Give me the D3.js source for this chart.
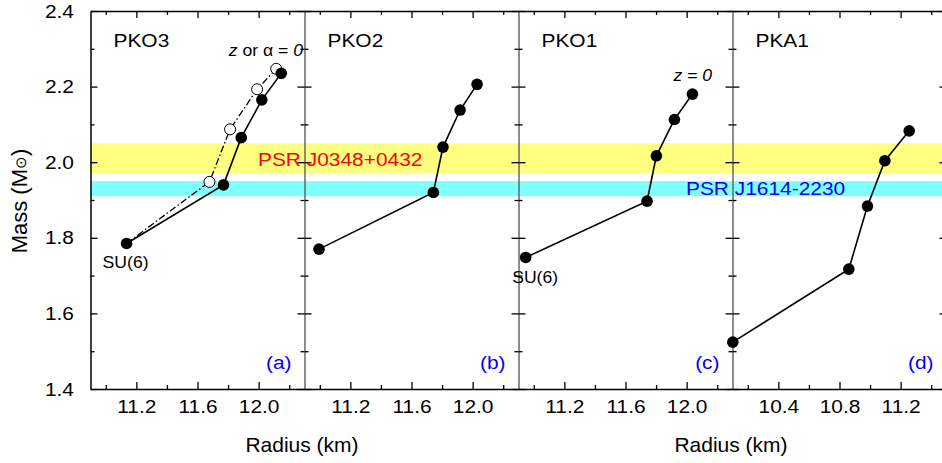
<!DOCTYPE html>
<html>
<head>
<meta charset="utf-8" />
<title>Mass-radius</title>
<style type="text/css">
  html, body { margin: 0; background: #fff; }
  svg { display: block; font-family: "Liberation Sans", Arial, sans-serif; }
  .tick line { stroke: #000; stroke-width: 1.3px; }
  .tick text { fill: #000; font-size: 19px; }
</style>
</head>
<body>
<div id="container"></div>
<script src="https://cdn.jsdelivr.net/npm/d3@7"></script>
<script>
// values
var panelNames = ["PKO3", "PKO2", "PKO1", "PKA1"];
var panelLetters = ["(a)", "(b)", "(c)", "(d)"];
var radiusDomains = [[10.9, 12.3], [10.9, 12.3], [10.9, 12.3], [10.1, 11.5]];
var radiusMajor = [[11.2, 11.6, 12.0], [11.2, 11.6, 12.0], [11.2, 11.6, 12.0], [10.4, 10.8, 11.2]];
var radiusMinor = [[11.0, 11.4, 11.8, 12.2], [11.0, 11.4, 11.8, 12.2], [11.0, 11.4, 11.8, 12.2], [10.2, 10.6, 11.0, 11.4]];
var massMajor = [1.4, 1.6, 1.8, 2.0, 2.2, 2.4];
var massMinor = [1.5, 1.7, 1.9, 2.1, 2.3];

var pko3R = [11.136, 11.770, 11.886, 12.021, 12.148];
var pko3M = [1.785, 1.940, 2.065, 2.165, 2.235];
var pko3OpenR = [11.136, 11.678, 11.813, 11.990, 12.115];
var pko3OpenM = [1.785, 1.948, 2.087, 2.193, 2.247];
var pko2R = [10.995, 11.743, 11.806, 11.918, 12.029];
var pko2M = [1.770, 1.920, 2.040, 2.138, 2.206];
var pko1R = [10.947, 11.741, 11.802, 11.920, 12.038];
var pko1M = [1.748, 1.897, 2.017, 2.113, 2.180];
var pka1R = [10.102, 10.861, 10.983, 11.097, 11.256];
var pka1M = [1.524, 1.717, 1.884, 2.004, 2.083];

var bandJ0348 = [1.97, 2.05];
var bandJ1614 = [1.91, 1.95];

var W = 942, H = 463;
var left0 = 90.5, panelW = 214, plotTop = 11, plotBottom = 389;
var sx = 1.1; // text in the picture is a bit stretched sideways

function zip(r, m) { return r.map(function(d, i) { return [d, m[i]]; }); }
var solid = [zip(pko3R, pko3M), zip(pko2R, pko2M), zip(pko1R, pko1M), zip(pka1R, pka1M)];
var open = zip(pko3OpenR, pko3OpenM);

var svg = d3.select("#container").append("svg")
    .attr("width", W).attr("height", H);

var y = d3.scaleLinear().domain([1.4, 2.4]).range([plotBottom, plotTop]);
var xs = radiusDomains.map(function(dom, i) {
  return d3.scaleLinear().domain(dom).range([left0 + i * panelW, left0 + (i + 1) * panelW]);
});
var rightEdge = left0 + 4 * panelW;

function label(g, x, yy, str, size, color, anchor) {
  return g.append("text")
      .attr("transform", "translate(" + x + "," + yy + ") scale(" + sx + ",1)")
      .attr("text-anchor", anchor || "start")
      .style("font-size", size + "px")
      .style("fill", color || "#000")
      .text(str);
}

// bands
svg.append("rect")
    .attr("x", left0).attr("width", rightEdge - left0)
    .attr("y", y(bandJ0348[1])).attr("height", y(bandJ0348[0]) - y(bandJ0348[1]))
    .attr("fill", "#ffff80");
svg.append("rect")
    .attr("x", left0).attr("width", rightEdge - left0)
    .attr("y", y(bandJ1614[1])).attr("height", y(bandJ1614[0]) - y(bandJ1614[1]))
    .attr("fill", "#80ffff");

// axes
xs.forEach(function(x, i) {
  var g = svg.append("g");
  var xl = x.range()[0], xr = x.range()[1];

  // vertical borders, inward ticks on both sides
  [[d3.axisLeft, xl], [d3.axisRight, xr]].forEach(function(a) {
    var edge = i === 0 && a[1] === xl;
    var maj = g.append("g").attr("transform", "translate(" + a[1] + ",0)")
        .call(a[0](y).tickValues(massMajor).tickSizeInner(-7).tickSizeOuter(0)
            .tickPadding(15).tickFormat(edge ? d3.format(".1f") : ""));
    var mn = g.append("g").attr("transform", "translate(" + a[1] + ",0)")
        .call(a[0](y).tickValues(massMinor).tickSizeInner(-4).tickSizeOuter(0).tickFormat(""));
    var col = edge ? "#000" : "#666";
    maj.select(".domain").attr("stroke", col).attr("stroke-width", edge ? 1.5 : 1);
    mn.select(".domain").remove();
    maj.selectAll(".tick text").attr("transform", "scale(" + sx + ",1)");
  });

  var bx = g.append("g").attr("transform", "translate(0," + plotBottom + ")")
      .call(d3.axisBottom(x).tickValues(radiusMajor[i]).tickSizeInner(-7).tickSizeOuter(0)
          .tickPadding(11).tickFormat(d3.format(".1f")));
  bx.select(".domain").attr("stroke-width", 1.5);
  bx.selectAll(".tick text").attr("transform", "scale(" + sx + ",1)");
  g.append("g").attr("transform", "translate(0," + plotBottom + ")")
      .call(d3.axisBottom(x).tickValues(radiusMinor[i]).tickSizeInner(-4).tickSizeOuter(0).tickFormat(""))
      .select(".domain").remove();

  var tx = g.append("g").attr("transform", "translate(0," + plotTop + ")")
      .call(d3.axisTop(x).tickValues(radiusMajor[i]).tickSizeInner(-7).tickSizeOuter(0).tickFormat(""));
  tx.select(".domain").attr("stroke-width", 1.5);
  g.append("g").attr("transform", "translate(0," + plotTop + ")")
      .call(d3.axisTop(x).tickValues(radiusMinor[i]).tickSizeInner(-4).tickSizeOuter(0).tickFormat(""))
      .select(".domain").remove();

  label(g, xl + 23, 47, panelNames[i], 19);
  label(g, x(x.domain()[1] - 0.085), 369, panelLetters[i], 19, "#0000ff", "end");
});

label(svg, 258, 166, "PSR J0348+0432", 19, "#ff0000");
label(svg, 686, 195, "PSR J1614-2230", 19, "#0000ff");

// curves
var xa = xs[0];
svg.append("path")
    .datum(open)
    .attr("d", d3.line().x(function(d) { return xa(d[0]); }).y(function(d) { return y(d[1]); }))
    .attr("fill", "none").attr("stroke", "#000").attr("stroke-width", 1.3)
    .attr("stroke-dasharray", "7,2.5,1.5,2.5");

solid.forEach(function(pts, i) {
  var x = xs[i];
  var l = d3.line().x(function(d) { return x(d[0]); }).y(function(d) { return y(d[1]); });
  svg.append("path").datum(pts).attr("d", l)
      .attr("fill", "none").attr("stroke", "#000").attr("stroke-width", 1.6);
});

svg.append("g").selectAll("circle")
    .data(open.slice(1))
    .join("circle")
    .attr("cx", function(d) { return xa(d[0]); })
    .attr("cy", function(d) { return y(d[1]); })
    .attr("r", 5.5)
    .attr("fill", "#fff").attr("stroke", "#000").attr("stroke-width", 1);

solid.forEach(function(pts, i) {
  var x = xs[i];
  svg.append("g").selectAll("circle")
      .data(pts)
      .join("circle")
      .attr("cx", function(d) { return x(d[0]); })
      .attr("cy", function(d) { return y(d[1]); })
      .attr("r", 5.8)
      .attr("fill", "#000");
});

// annotations
label(svg, xa(11.136) - 1, 268, "SU(6)", 16, "#000", "middle");
label(svg, xs[2](10.95) + 9, 283, "SU(6)", 16, "#000", "middle");

var t1 = svg.append("text")
    .attr("transform", "translate(303,56) scale(" + sx + ",1)")
    .attr("text-anchor", "end").style("font-size", "16px");
t1.append("tspan").style("font-style", "italic").text("z");
t1.append("tspan").text(" or ");
t1.append("tspan").text("\u03b1");
t1.append("tspan").text(" = ");
t1.append("tspan").style("font-style", "italic").text("0");

var t2 = svg.append("text")
    .attr("transform", "translate(712,81) scale(" + sx + ",1)")
    .attr("text-anchor", "end").style("font-size", "16px").style("font-style", "italic");
t2.text("z = 0");

// axis titles
svg.append("text").attr("x", 302).attr("y", 452).attr("text-anchor", "middle")
    .style("font-size", "21px").text("Radius (km)");
svg.append("text").attr("x", 731).attr("y", 452).attr("text-anchor", "middle")
    .style("font-size", "21px").text("Radius (km)");

var ml = svg.append("text")
    .attr("transform", "translate(27,201) rotate(-90)")
    .attr("text-anchor", "middle").style("font-size", "22px");
ml.append("tspan").text("Mass (M");
ml.append("tspan").style("font-size", "15px").attr("dy", -1).text("\u2299");
ml.append("tspan").attr("dy", 1).text(")");
</script>
</body>
</html>
